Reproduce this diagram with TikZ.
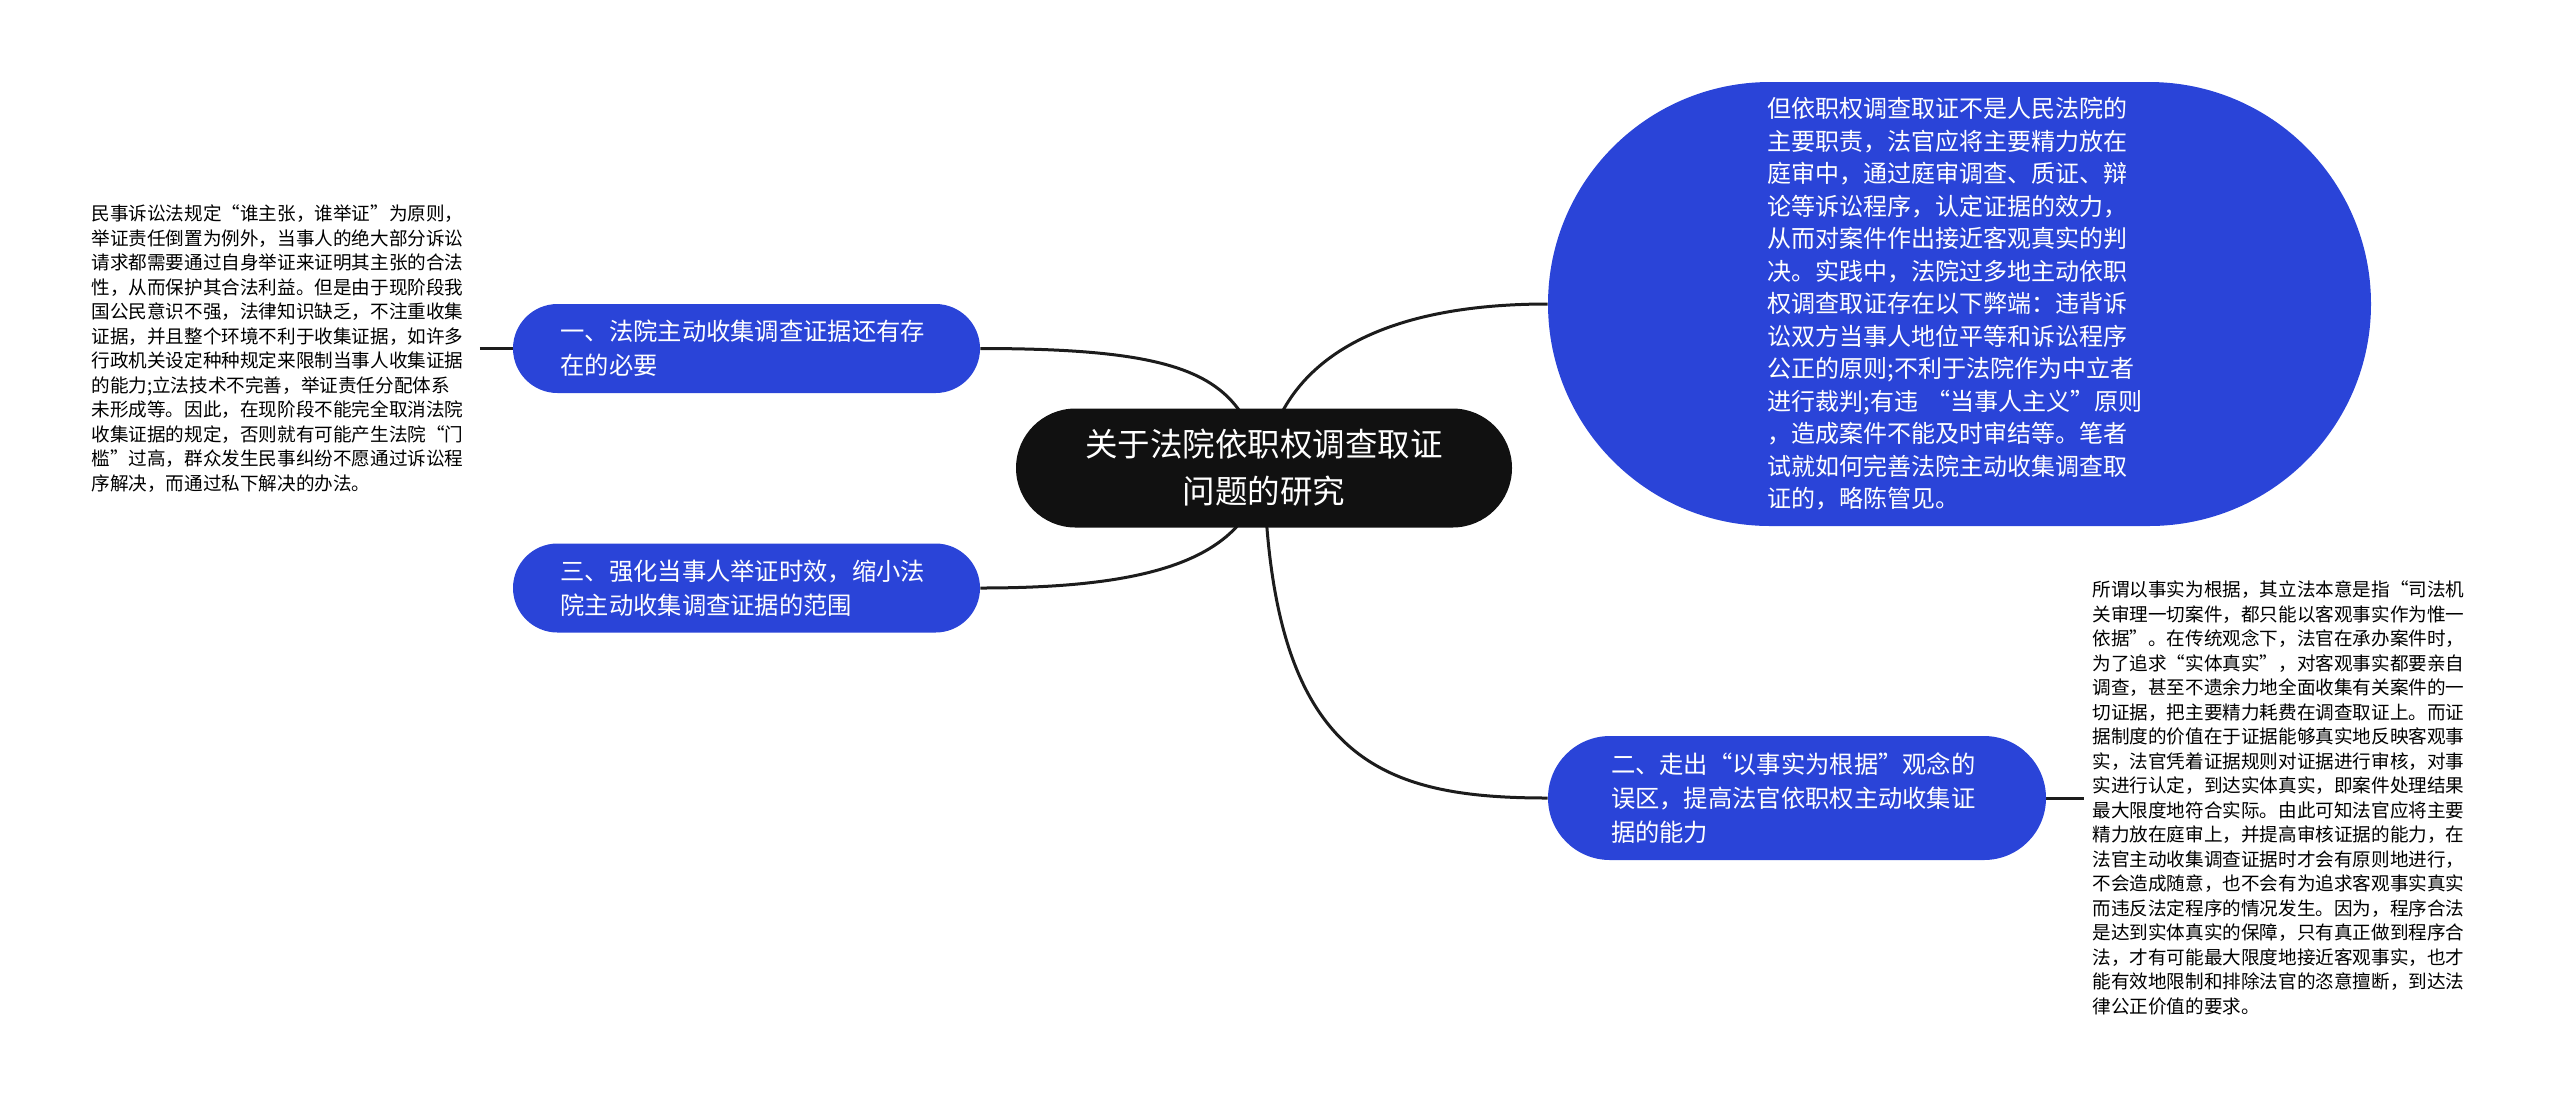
\documentclass[tikz,border=0pt]{standalone}
\usepackage{fontspec}
\setmainfont{Noto Sans CJK SC}
\usetikzlibrary{shapes.misc,backgrounds}
\definecolor{topicblue}{HTML}{2A44D8}
\definecolor{rootblack}{HTML}{111111}
\definecolor{linkgray}{HTML}{1C1C1C}

\begin{document}
\begin{tikzpicture}[x=0.5pt,y=-0.5pt,
  pill/.style={rounded rectangle,inner sep=0pt,text=white},
  topic/.style={pill,fill=topicblue,align=left,text width=186pt,minimum width=233.5pt,minimum height=44.5pt,font=\fontsize{12.15pt}{17pt}\selectfont},
  leaf/.style={inner xsep=4pt,inner ysep=0pt,align=left,text width=190pt,anchor=west,font=\fontsize{9.3pt}{12.25pt}\selectfont},
  link/.style={line width=1.5pt,draw=linkgray}]
\useasboundingbox (0,0) rectangle (2560,1105);
% centre
\node[pill,fill=rootblack,align=center,minimum width=248pt,minimum height=59.5pt,font=\fontsize{16.25pt}{23.5pt}\selectfont] (root) at (1264,468) {关于法院依职权调查取证\\问题的研究};
% first level
\node[pill,fill=topicblue,align=left,text width=192pt,minimum width=411.5pt,minimum height=222pt,font=\fontsize{12pt}{16.25pt}\selectfont] (intro) at (1959.5,304) {但依职权调查取证不是人民法院的\\主要职责，法官应将主要精力放在\\庭审中，通过庭审调查、质证、辩\\论等诉讼程序，认定证据的效力，\\从而对案件作出接近客观真实的判\\决。实践中，法院过多地主动依职\\权调查取证存在以下弊端：违背诉\\讼双方当事人地位平等和诉讼程序\\公正的原则;不利于法院作为中立者\\进行裁判;有违 “当事人主义”原则\\，造成案件不能及时审结等。笔者\\试就如何完善法院主动收集调查取\\证的，略陈管见。};
\node[topic] (sec1) at (746.5,348.5) {一、法院主动收集调查证据还有存\\在的必要};
\node[topic] (sec3) at (746.5,588) {三、强化当事人举证时效，缩小法\\院主动收集调查证据的范围};
\node[topic,minimum width=249pt,minimum height=62pt] (sec2) at (1797,798) {二、走出“以事实为根据”观念的\\误区，提高法官依职权主动收集证\\据的能力};
% notes
\node[leaf] (note1) at (83,348.5) {民事诉讼法规定“谁主张，谁举证”为原则，\\举证责任倒置为例外，当事人的绝大部分诉讼\\请求都需要通过自身举证来证明其主张的合法\\性，从而保护其合法利益。但是由于现阶段我\\国公民意识不强，法律知识缺乏，不注重收集\\证据，并且整个环境不利于收集证据，如许多\\行政机关设定种种规定来限制当事人收集证据\\的能力;立法技术不完善，举证责任分配体系\\未形成等。因此，在现阶段不能完全取消法院\\收集证据的规定，否则就有可能产生法院“门\\槛”过高，群众发生民事纠纷不愿通过诉讼程\\序解决，而通过私下解决的办法。};
\node[leaf] (note2) at (2084,798) {所谓以事实为根据，其立法本意是指“司法机\\关审理一切案件，都只能以客观事实作为惟一\\依据”。在传统观念下，法官在承办案件时，\\为了追求“实体真实”，对客观事实都要亲自\\调查，甚至不遗余力地全面收集有关案件的一\\切证据，把主要精力耗费在调查取证上。而证\\据制度的价值在于证据能够真实地反映客观事\\实，法官凭着证据规则对证据进行审核，对事\\实进行认定，到达实体真实，即案件处理结果\\最大限度地符合实际。由此可知法官应将主要\\精力放在庭审上，并提高审核证据的能力，在\\法官主动收集调查证据时才会有原则地进行，\\不会造成随意，也不会有为追求客观事实真实\\而违反法定程序的情况发生。因为，程序合法\\是达到实体真实的保障，只有真正做到程序合\\法，才有可能最大限度地接近客观事实，也才\\能有效地限制和排除法官的恣意擅断，到达法\\律公正价值的要求。};
% links
\begin{scope}[on background layer]
\draw[link] (root.center) .. controls +(-24,-88) and +(220,0) .. (sec1.east);
\draw[link] (root.center) .. controls +(16,-108) and +(-168,0) .. (intro.west);
\draw[link] (root.center) .. controls +(-14,92) and +(170,0) .. (sec3.east);
\draw[link] (root.center) .. controls +(6,292) and +(-168,0) .. (sec2.west);
\draw[link] (note1.east) -- (sec1.west);
\draw[link] (sec2.east) -- (note2.west);
\end{scope}
\end{tikzpicture}
\end{document}
